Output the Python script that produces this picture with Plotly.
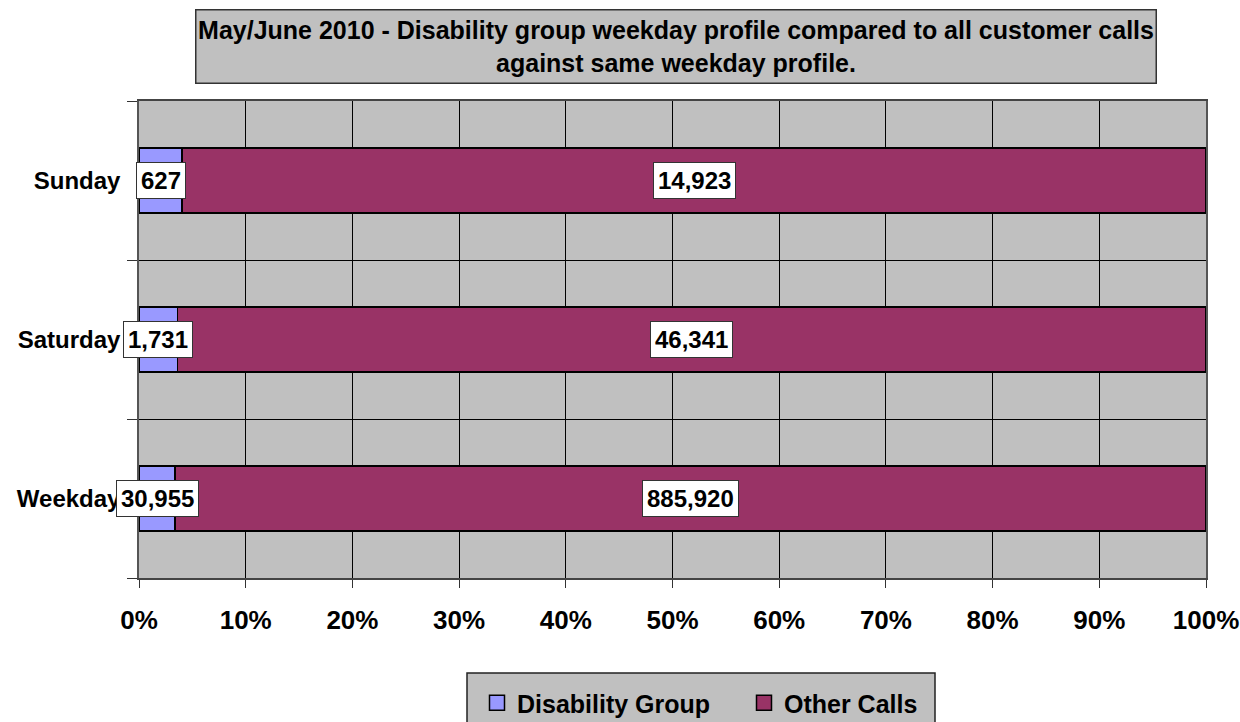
import plotly.graph_objects as go

categories = ["Weekday", "Saturday", "Sunday"]
disability = [30955, 1731, 627]
other = [885920, 46341, 14923]
x_ticks = [0, 10, 20, 30, 40, 50, 60, 70, 80, 90, 100]
x_tick_labels = [f"{v}%" for v in x_ticks]
series_names = ["Disability Group", "Other Calls"]
series_colors = ["#9999ff", "#993366"]

FONT = "Liberation Sans, Arial, sans-serif"

fig = go.Figure()
for name, vals, col in zip(series_names, [disability, other], series_colors):
    fig.add_trace(go.Bar(
        y=categories, x=vals, orientation="h", name=name,
        marker=dict(color=col, line=dict(color="black", width=1.5)),
        width=0.41, hoverinfo="skip", showlegend=False,
    ))
# legend proxies (square swatches)
for name, col in zip(series_names, series_colors):
    fig.add_trace(go.Scatter(
        x=[None], y=[None], mode="markers", name=name,
        marker=dict(symbol="square", size=15, color=col, line=dict(color="black", width=1.5)),
        showlegend=True, hoverinfo="skip",
    ))

annotations = []
for cat, d, o in zip(categories, disability, other):
    tot = d + o
    dp = d / tot * 100
    op = o / tot * 100
    for xc, val in [(dp / 2, d), (dp + op / 2, o)]:
        annotations.append(dict(
            x=xc, y=cat, xref="x", yref="y", text=f"{val:,}",
            showarrow=False, bgcolor="white", bordercolor="#333333",
            borderwidth=1, borderpad=4,
            font=dict(family=FONT, size=24, color="black", weight="bold"),
        ))

annotations.append(dict(
    x=0.5, y=1.0, xref="paper", yref="paper", xanchor="center", yanchor="bottom",
    yshift=17, xshift=3,
    text="May/June 2010 - Disability group weekday profile compared to all customer calls<br>against same weekday profile.",
    showarrow=False, bgcolor="#c0c0c0", bordercolor="#333333", borderwidth=1.5,
    width=957, height=70, align="center",
    font=dict(family=FONT, size=25, color="black", weight="bold"),
))

shapes = [dict(
    type="rect", xref="paper", yref="paper",
    x0=(467 - 139) / 1067, x1=(935 - 139) / 1067,
    y0=(578 - 673) / 477, y1=(578 - 740) / 477,
    fillcolor="#c0c0c0", line=dict(color="#222222", width=1.5), layer="below",
)]

fig.update_layout(
    barmode="stack", barnorm="percent",
    width=1240, height=722,
    margin=dict(l=139, r=34, t=101, b=144),
    paper_bgcolor="white", plot_bgcolor="#c0c0c0",
    font=dict(family=FONT, color="black"),
    showlegend=True,
    legend=dict(
        orientation="h", xref="container", yref="container",
        x=744 / 1240, xanchor="center",
        y=(722 - 703) / 722, yanchor="middle",
        bgcolor="rgba(0,0,0,0)", borderwidth=0,
        font=dict(family=FONT, size=25, color="black", weight="bold"),
        itemsizing="trace", traceorder="normal",
        entrywidth=222, entrywidthmode="pixels",
    ),
    annotations=annotations,
    shapes=shapes,
    xaxis=dict(
        range=[0, 100], tickvals=x_ticks, ticktext=x_tick_labels,
        showgrid=True, gridcolor="black", gridwidth=1,
        ticks="outside", ticklen=8, tickcolor="#333333",
        tickfont=dict(family=FONT, size=26, color="black", weight="bold"),
        ticklabelstandoff=10, automargin=False,
        showline=True, linecolor="#444444", linewidth=1.5, mirror=True,
        zeroline=False,
    ),
    yaxis=dict(
        type="category", categoryorder="array", categoryarray=categories,
        range=[-0.5, 2.5], automargin=False,
        tickson="boundaries", ticks="outside", ticklen=10, tickcolor="#333333",
        showgrid=True, gridcolor="black", gridwidth=1,
        tickvals=categories, ticktext=categories,
        tickfont=dict(family=FONT, size=24, color="black", weight="bold"),
        ticklabelstandoff=12,
        showline=True, linecolor="#555555", linewidth=1.5, mirror=True,
        zeroline=False,
    ),
)

fig.write_html("out.html")
